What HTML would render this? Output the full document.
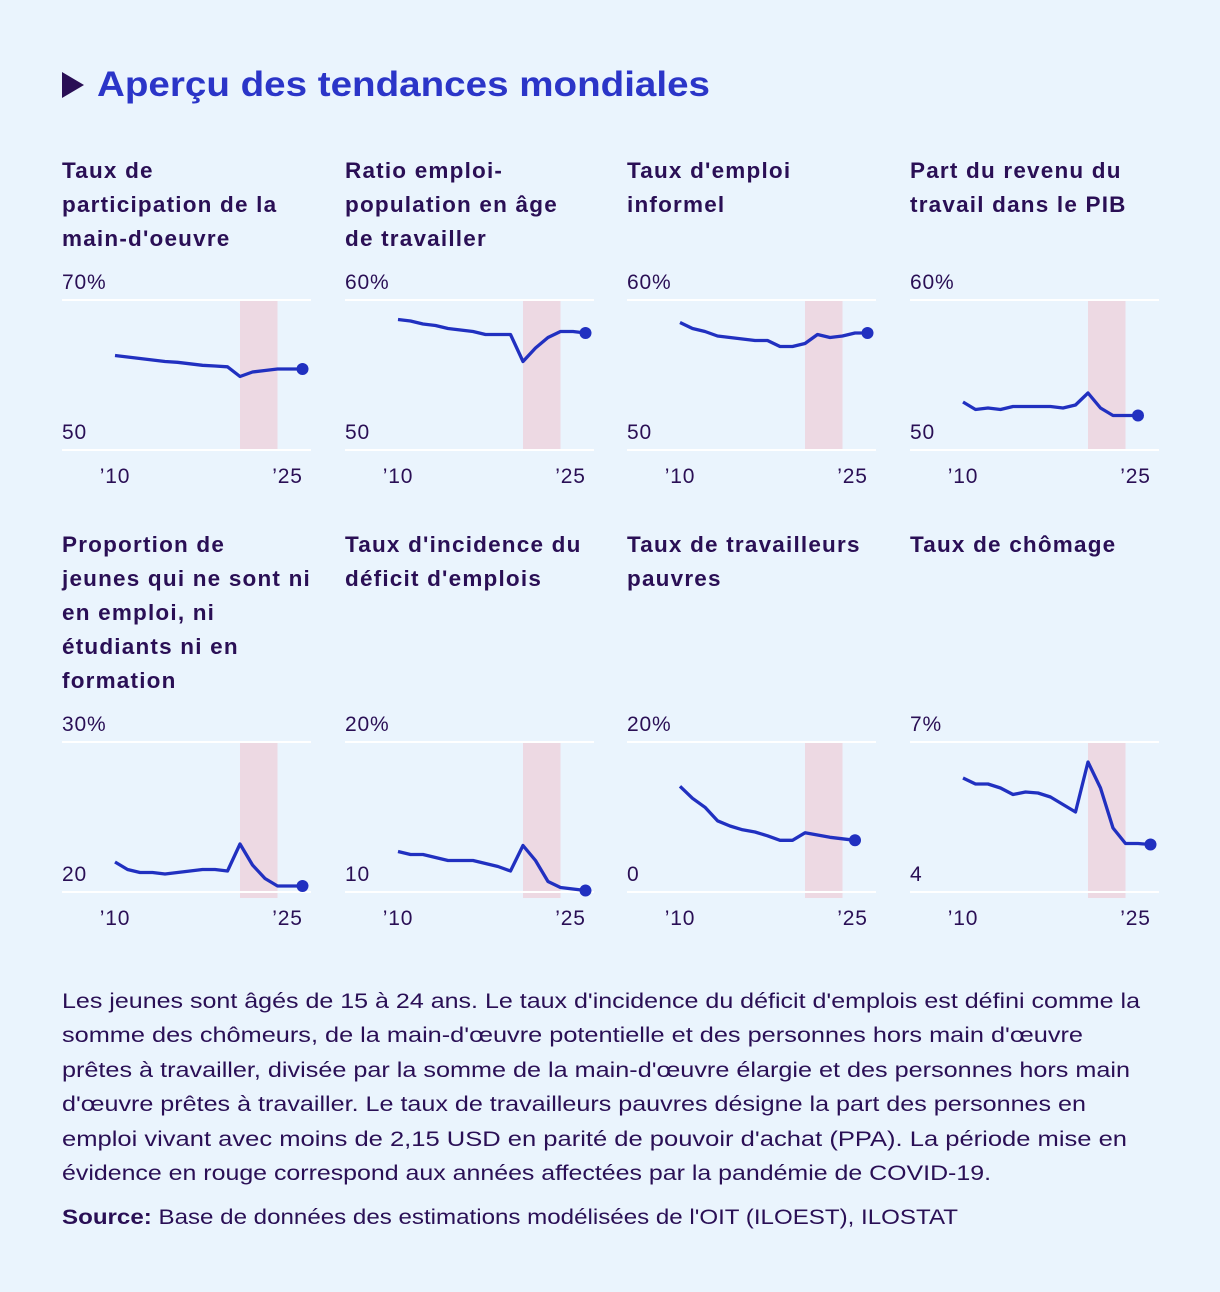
<!DOCTYPE html>
<html><head><meta charset="utf-8"><style>
html,body{margin:0;padding:0;background:#EAF4FD;}
svg{display:block;font-family:"Liberation Sans","DejaVu Sans",sans-serif;}
.ct{font-size:22.5px;font-weight:bold;fill:#2A0F55;letter-spacing:1.2px;}
.ax{font-size:21px;fill:#2A0F55;letter-spacing:0.8px;}
.fn{font-size:21px;fill:#2A0F55;}
</style></head><body>
<svg id="page" width="1220" height="1292" viewBox="0 0 1220 1292">
<rect width="1220" height="1292" fill="#EAF4FD"/>
<polygon points="62,72 84,85 62,98" fill="#2A0F55"/>
<text x="97" y="96" font-size="35" font-weight="bold" fill="#2B35C8" textLength="613" lengthAdjust="spacingAndGlyphs">Aperçu des tendances mondiales</text>
<g id="charts"></g>
<g>
<text class="fn" x="62" y="1008" textLength="1078" lengthAdjust="spacingAndGlyphs">Les jeunes sont âgés de 15 à 24 ans. Le taux d'incidence du déficit d'emplois est défini comme la</text>
<text class="fn" x="62" y="1042" textLength="1021" lengthAdjust="spacingAndGlyphs">somme des chômeurs, de la main-d'œuvre potentielle et des personnes hors main d'œuvre</text>
<text class="fn" x="62" y="1077" textLength="1068" lengthAdjust="spacingAndGlyphs">prêtes à travailler, divisée par la somme de la main-d'œuvre élargie et des personnes hors main</text>
<text class="fn" x="62" y="1111" textLength="1024" lengthAdjust="spacingAndGlyphs">d'œuvre prêtes à travailler. Le taux de travailleurs pauvres désigne la part des personnes en</text>
<text class="fn" x="62" y="1146" textLength="1065" lengthAdjust="spacingAndGlyphs">emploi vivant avec moins de 2,15 USD en parité de pouvoir d'achat (PPA). La période mise en</text>
<text class="fn" x="62" y="1180" textLength="929" lengthAdjust="spacingAndGlyphs">évidence en rouge correspond aux années affectées par la pandémie de COVID-19.</text>
<text class="fn" x="62" y="1224" textLength="896" lengthAdjust="spacingAndGlyphs"><tspan font-weight="bold">Source:</tspan> Base de données des estimations modélisées de l'OIT (ILOEST), ILOSTAT</text>
</g>
</svg>
<script>
const titles = [
 ["Taux de","participation de la","main-d'oeuvre"],
 ["Ratio emploi-","population en âge","de travailler"],
 ["Taux d'emploi","informel"],
 ["Part du revenu du","travail dans le PIB"],
 ["Proportion de","jeunes qui ne sont ni","en emploi, ni","étudiants ni en","formation"],
 ["Taux d'incidence du","déficit d'emplois"],
 ["Taux de travailleurs","pauvres"],
 ["Taux de chômage"]
];
const yMins = [50,50,50,50,20,10,0,4];
const yMaxs = [70,60,60,60,30,20,20,7];
const topLabels = ["70%","60%","60%","60%","30%","20%","20%","7%"];
const botLabels = ["50","50","50","50","20","10","0","4"];
const startYear = 2010;
const xTickLabels = ["’10","’25"];
const xTickYears = [2010,2025];
const covidStart = 2020, covidEnd = 2023;
const s1 = [62.6,62.4,62.2,62.0,61.8,61.7,61.5,61.3,61.2,61.1,59.8,60.4,60.6,60.8,60.8,60.8];
const s2 = [58.7,58.6,58.4,58.3,58.1,58.0,57.9,57.7,57.7,57.7,55.9,56.8,57.5,57.9,57.9,57.8];
const s3 = [58.5,58.1,57.9,57.6,57.5,57.4,57.3,57.3,56.9,56.9,57.1,57.7,57.5,57.6,57.8,57.8];
const s4 = [53.2,52.7,52.8,52.7,52.9,52.9,52.9,52.9,52.8,53.0,53.8,52.8,52.3,52.3,52.3];
const s5 = [22.0,21.5,21.3,21.3,21.2,21.3,21.4,21.5,21.5,21.4,23.2,21.8,20.9,20.4,20.4,20.4];
const s6 = [12.7,12.5,12.5,12.3,12.1,12.1,12.1,11.9,11.7,11.4,13.1,12.1,10.7,10.3,10.2,10.1];
const s7 = [14.1,12.5,11.3,9.5,8.8,8.3,8.0,7.5,6.9,6.9,7.9,7.6,7.3,7.1,6.9];
const s8 = [6.28,6.16,6.16,6.08,5.95,6.0,5.98,5.9,5.75,5.6,6.6,6.08,5.28,4.97,4.97,4.95];
const series = [s1,s2,s3,s4,s5,s6,s7,s8];
const names = ["labour-force-participation","employment-to-population","informal-employment","labour-income-share","neet-rate","jobs-gap","working-poverty","unemployment-rate"];

const NS="http://www.w3.org/2000/svg";
const root=document.getElementById('charts');
function mk(tag,attrs,parent){const e=document.createElementNS(NS,tag);for(const k in attrs)e.setAttribute(k,attrs[k]);parent.appendChild(e);return e;}
const colX=[0,283,565,848];
for(let i=0;i<8;i++){
  const ox=colX[i%4], row=Math.floor(i/4);
  const titleY = row===0?178:552;
  const gTop = row===0?300:742, gBot = row===0?450:892;
  const shadeBot = row===0?449:898;
  const g=mk('g',{},root);
  
  
  const xs=yr=>62+ox+53+(yr-startYear)*12.5;
  const ys=v=>gBot-(v-yMins[i])/(yMaxs[i]-yMins[i])*(gBot-gTop);
  titles[i].forEach((t,j)=>{const e=mk('text',{x:62+ox,y:titleY+j*34,class:'ct'},g);e.textContent=t;
    
    });
  const sh=mk('rect',{x:xs(covidStart),y:gTop,width:xs(covidEnd)-xs(covidStart),height:shadeBot-gTop,fill:'#EDD9E3'},g);
  
  
  [gTop,gBot].forEach(y=>{const l=mk('line',{x1:62+ox,x2:311+ox,y1:y,y2:y,stroke:'#ffffff','stroke-width':2},g);
    
    });
  const tl=mk('text',{x:62+ox,y:gTop-11,class:'ax'},g);tl.textContent=topLabels[i];
  
  
  const bl=mk('text',{x:62+ox,y:gBot-11,class:'ax'},g);bl.textContent=botLabels[i];
  
  
  xTickYears.forEach((yr,j)=>{const e=mk('text',{x:(j===0?xs(yr):xs(yr)-15),y:gBot+33,class:'ax','text-anchor':'middle'},g);e.textContent=xTickLabels[j];
    
    });
  const d=series[i].map((v,k)=>(k?'L':'M')+xs(startYear+k).toFixed(1)+','+ys(v).toFixed(1)).join(' ');
  const p=mk('path',{d:d,fill:'none',stroke:'#2130C0','stroke-width':3.3,'stroke-linejoin':'round'},g);
  
  
  const n=series[i].length-1;
  const c=mk('circle',{cx:xs(startYear+n),cy:ys(series[i][n]),r:6,fill:'#2130C0'},g);
  
  
}
</script>
</body></html>
